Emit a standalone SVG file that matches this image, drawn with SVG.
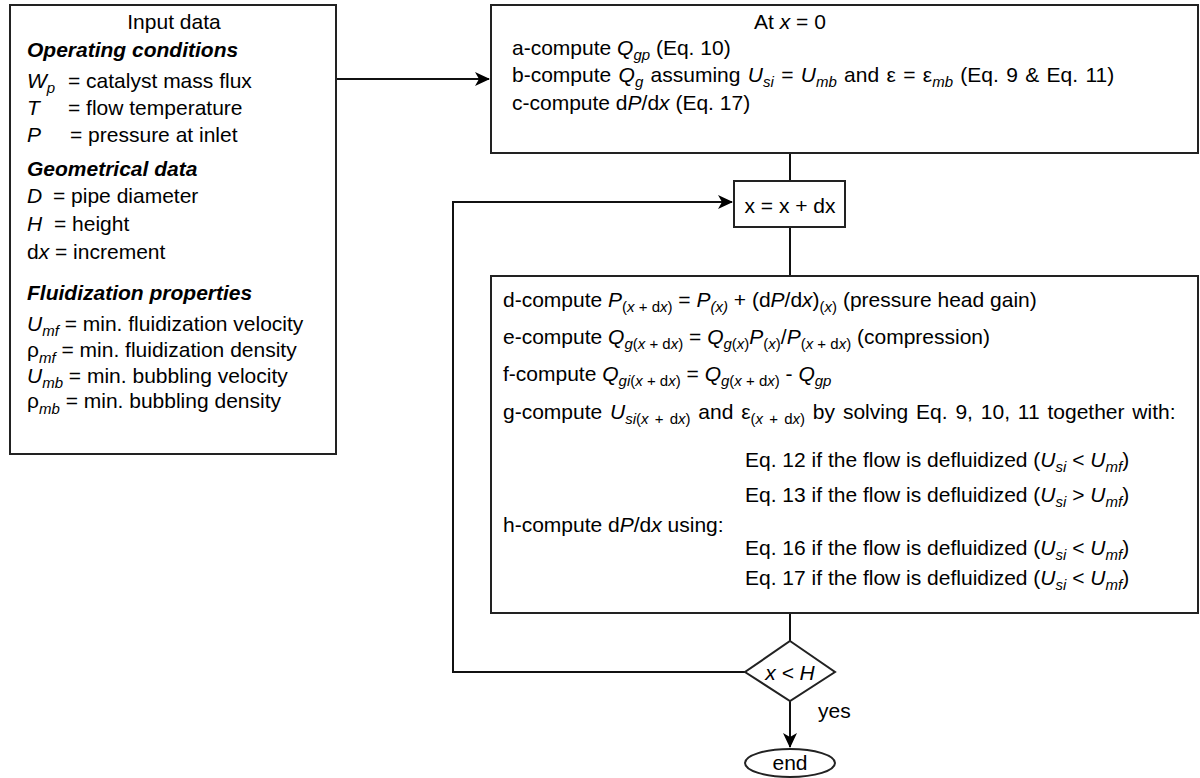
<svg xmlns="http://www.w3.org/2000/svg" width="1200" height="778" viewBox="0 0 1200 778">
<style>
text{font-family:"Liberation Sans",Arial,Helvetica,sans-serif;font-size:21px;fill:#000}
.i{font-style:italic}
.b{font-weight:bold;font-style:italic}
.s{font-size:15px}
.box{fill:#fff;stroke:#222;stroke-width:2}
.ln{fill:none;stroke:#111;stroke-width:2}
</style>
<defs>
<marker id="ah" markerWidth="16" markerHeight="14" refX="14" refY="7" orient="auto" markerUnits="userSpaceOnUse">
<path d="M0,0 L15,7 L0,14 L4,7 z" fill="#000"/>
</marker>
</defs>
<rect width="1200" height="778" fill="#fff"/>

<g id="connectors">
<path class="ln" d="M336,79 H489" marker-end="url(#ah)"/>
<path class="ln" d="M790,153 V181"/>
<path class="ln" d="M790,227 V276"/>
<path class="ln" d="M790,613 V641"/>
<path class="ln" d="M745,672 H453 V202 H732" marker-end="url(#ah)"/>
<path class="ln" d="M790,701 V747" marker-end="url(#ah)"/>
<text x="818" y="718">yes</text>
</g>

<g id="input">
<rect class="box" x="10" y="5" width="326" height="449"/>
<text x="174" y="29" text-anchor="middle">Input data</text>
<text x="27" y="57" class="b">Operating conditions</text>
<text x="27" y="88"><tspan class="i">W</tspan><tspan class="s i" dy="5">p</tspan><tspan x="68" dy="-5">= catalyst mass flux</tspan></text>
<text x="27" y="115"><tspan class="i">T</tspan><tspan x="68">= flow temperature</tspan></text>
<text x="27" y="142"><tspan class="i">P</tspan><tspan x="70">= pressure at inlet</tspan></text>
<text x="27" y="176" class="b">Geometrical data</text>
<text x="27" y="203"><tspan class="i">D</tspan><tspan x="53">= pipe diameter</tspan></text>
<text x="27" y="231"><tspan class="i">H</tspan><tspan x="54">= height</tspan></text>
<text x="27" y="259">d<tspan class="i">x</tspan> = increment</text>
<text x="27" y="300" class="b">Fluidization properties</text>
<text x="27" y="331"><tspan class="i">U</tspan><tspan class="s i" dy="5">mf</tspan><tspan dy="-5"> = min. fluidization velocity</tspan></text>
<text x="27" y="357">ρ<tspan class="s i" dy="6">mf</tspan><tspan dy="-6"> = min. fluidization density</tspan></text>
<text x="27" y="383"><tspan class="i">U</tspan><tspan class="s i" dy="5">mb</tspan><tspan dy="-5"> = min. bubbling velocity</tspan></text>
<text x="27" y="408">ρ<tspan class="s i" dy="6">mb</tspan><tspan dy="-6"> = min. bubbling density</tspan></text>
</g>

<g id="init">
<rect class="box" x="491" y="5" width="707" height="148"/>
<text x="790" y="29" text-anchor="middle">At <tspan class="i">x</tspan> = 0</text>
<text x="512" y="55">a-compute <tspan class="i">Q</tspan><tspan class="s i" dy="5">gp</tspan><tspan dy="-5"> (Eq. 10)</tspan></text>
<text x="512" y="82" word-spacing="1.5">b-compute <tspan class="i">Q</tspan><tspan class="s i" dy="5">g</tspan><tspan dy="-5"> assuming </tspan><tspan class="i">U</tspan><tspan class="s i" dy="5">si</tspan><tspan dy="-5"> = </tspan><tspan class="i">U</tspan><tspan class="s i" dy="5">mb</tspan><tspan dy="-5"> and ε = ε</tspan><tspan class="s i" dy="5">mb</tspan><tspan dy="-5"> (Eq. 9 &amp; Eq. 11)</tspan></text>
<text x="512" y="110">c-compute d<tspan class="i">P</tspan>/d<tspan class="i">x</tspan> (Eq. 17)</text>
</g>

<g id="step">
<rect class="box" x="734" y="181" width="111" height="46"/>
<text x="790" y="213" text-anchor="middle">x = x + dx</text>
</g>

<g id="loop">
<rect class="box" x="491" y="276" width="707" height="337"/>
<text x="503" y="307">d-compute <tspan class="i">P</tspan><tspan class="s" dy="5">(<tspan class="i">x</tspan> + d<tspan class="i">x</tspan>)</tspan><tspan dy="-5"> = </tspan><tspan class="i">P</tspan><tspan class="s i" dy="5">(x)</tspan><tspan dy="-5"> + (d</tspan><tspan class="i">P</tspan>/d<tspan class="i">x</tspan>)<tspan class="s" dy="5">(<tspan class="i">x</tspan>)</tspan><tspan dy="-5"> (pressure head gain)</tspan></text>
<text x="503" y="344">e-compute <tspan class="i">Q</tspan><tspan class="s" dy="5"><tspan class="i">g</tspan>(<tspan class="i">x</tspan> + d<tspan class="i">x</tspan>)</tspan><tspan dy="-5"> = </tspan><tspan class="i">Q</tspan><tspan class="s" dy="5"><tspan class="i">g</tspan>(<tspan class="i">x</tspan>)</tspan><tspan class="i" dy="-5">P</tspan><tspan class="s" dy="5">(<tspan class="i">x</tspan>)</tspan><tspan dy="-5">/</tspan><tspan class="i">P</tspan><tspan class="s" dy="5">(<tspan class="i">x</tspan> + d<tspan class="i">x</tspan>)</tspan><tspan dy="-5"> (compression)</tspan></text>
<text x="503" y="381">f-compute <tspan class="i">Q</tspan><tspan class="s" dy="5"><tspan class="i">gi</tspan>(<tspan class="i">x</tspan> + d<tspan class="i">x</tspan>)</tspan><tspan dy="-5"> = </tspan><tspan class="i">Q</tspan><tspan class="s" dy="5"><tspan class="i">g</tspan>(<tspan class="i">x</tspan> + d<tspan class="i">x</tspan>)</tspan><tspan dy="-5"> - </tspan><tspan class="i">Q</tspan><tspan class="s i" dy="5">gp</tspan></text>
<text x="503" y="419" word-spacing="2">g-compute <tspan class="i">U</tspan><tspan class="s" dy="5"><tspan class="i">si</tspan>(<tspan class="i">x</tspan> + d<tspan class="i">x</tspan>)</tspan><tspan dy="-5"> and ε</tspan><tspan class="s" dy="5">(<tspan class="i">x</tspan> + d<tspan class="i">x</tspan>)</tspan><tspan dy="-5"> by solving Eq. 9, 10, 11 together with:</tspan></text>
<text x="745" y="467">Eq. 12 if the flow is defluidized (<tspan class="i">U</tspan><tspan class="s i" dy="5">si</tspan><tspan dy="-5"> &lt; </tspan><tspan class="i">U</tspan><tspan class="s i" dy="5">mf</tspan><tspan dy="-5">)</tspan></text>
<text x="745" y="502">Eq. 13 if the flow is defluidized (<tspan class="i">U</tspan><tspan class="s i" dy="5">si</tspan><tspan dy="-5"> &gt; </tspan><tspan class="i">U</tspan><tspan class="s i" dy="5">mf</tspan><tspan dy="-5">)</tspan></text>
<text x="503" y="532">h-compute d<tspan class="i">P</tspan>/d<tspan class="i">x</tspan> using:</text>
<text x="745" y="555">Eq. 16 if the flow is defluidized (<tspan class="i">U</tspan><tspan class="s i" dy="5">si</tspan><tspan dy="-5"> &lt; </tspan><tspan class="i">U</tspan><tspan class="s i" dy="5">mf</tspan><tspan dy="-5">)</tspan></text>
<text x="745" y="585">Eq. 17 if the flow is defluidized (<tspan class="i">U</tspan><tspan class="s i" dy="5">si</tspan><tspan dy="-5"> &lt; </tspan><tspan class="i">U</tspan><tspan class="s i" dy="5">mf</tspan><tspan dy="-5">)</tspan></text>
</g>

<g id="decision">
<polygon class="box" points="790,641 835,672 790,701 745,672"/>
<text x="790" y="680" text-anchor="middle" class="i">x &lt; H</text>
</g>

<g id="end">
<ellipse class="box" cx="790" cy="763" rx="45" ry="14"/>
<text x="790" y="770" text-anchor="middle">end</text>
</g>
</svg>
